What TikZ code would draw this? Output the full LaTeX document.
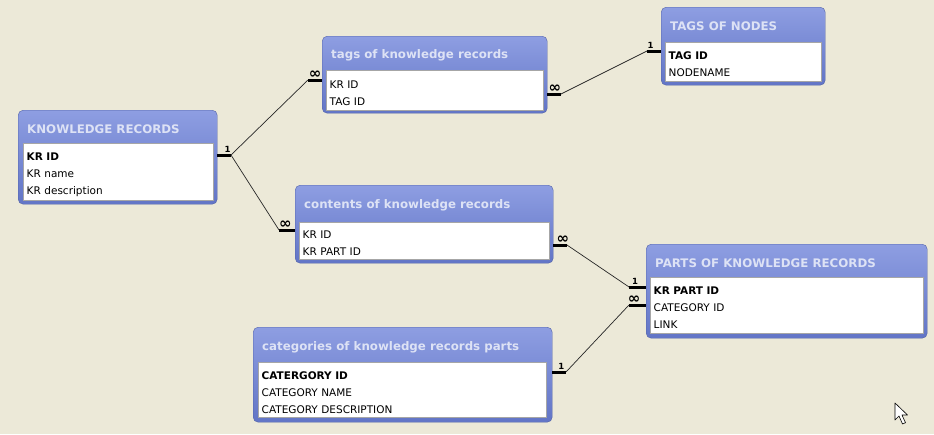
\documentclass[tikz,border=0pt]{standalone}
\usepackage{fontspec}
\setmainfont{DejaVu Sans}
\usetikzlibrary{positioning}
\definecolor{desk}{HTML}{ECE9D8}
\definecolor{bartop}{HTML}{8E9EE2}
\definecolor{barbot}{HTML}{6275C6}
\definecolor{ttltext}{HTML}{DDE2F5}
\tikzset{
  table/.style={anchor=north west, inner sep=0pt, rounded corners=5pt, draw=barbot!85!black, top color=bartop, bottom color=barbot},
  ttl/.style={anchor=west, inner sep=0pt, text=ttltext, font=\fontsize{11.8}{14}\selectfont\bfseries},
  fields/.style={anchor=north west, fill=white, draw=gray!70, inner xsep=3.5pt, inner ysep=1pt, align=left,
    font=\fontsize{10.5}{17}\selectfont, execute at begin node={\rule{0pt}{13pt}}},
  key/.style={line width=3pt},
  link/.style={line width=0.7pt, black!85},
  one/.style={above, inner sep=1pt, font=\fontsize{8.5}{9}\selectfont\bfseries},
  many/.style={above, inner sep=0pt, font=\fontsize{15}{15}\selectfont\bfseries},
}

\begin{document}
\begin{tikzpicture}[x=1pt,y=-1pt]
    \fill[desk] (0,0) rectangle (934,434);
    \useasboundingbox (0,0) rectangle (934,434);

    % tables
    \node[table, minimum width=199pt, minimum height=94pt] (kr) at (18,110) {};
    \node[ttl] (krT) at ([xshift=9pt,yshift=-19pt]kr.north west) {KNOWLEDGE RECORDS};
    \node[fields, text width=183pt, minimum height=57pt] (krF) at (23,143) {\textbf{KR ID}\\KR name\\KR description};

    \node[table, minimum width=225pt, minimum height=77pt] (tags) at (322,36) {};
    \node[ttl] (tagsT) at ([xshift=9pt,yshift=-19pt]tags.north west) {tags of knowledge records};
    \node[fields, text width=210pt, minimum height=40pt] (tagsF) at (326,70) {KR ID\\TAG ID};

    \node[table, minimum width=258pt, minimum height=78pt] (cont) at (295,185) {};
    \node[ttl] (contT) at ([xshift=9pt,yshift=-20pt]cont.north west) {contents of knowledge records};
    \node[fields, text width=243pt, minimum height=37pt] (contF) at (299,222) {KR ID\\KR PART ID};

    \node[table, minimum width=164pt, minimum height=78pt] (nodes) at (661,7) {};
    \node[ttl] (nodesT) at ([xshift=9pt,yshift=-19pt]nodes.north west) {TAGS OF NODES};
    \node[fields, text width=149pt, minimum height=39pt] (nodesF) at (665,42) {\textbf{TAG ID}\\NODENAME};

    \node[table, minimum width=281pt, minimum height=94pt] (parts) at (646,244) {};
    \node[ttl] (partsT) at ([xshift=9pt,yshift=-19pt]parts.north west) {PARTS OF KNOWLEDGE RECORDS};
    \node[fields, text width=266pt, minimum height=56pt] (partsF) at (650,277) {\textbf{KR PART ID}\\CATEGORY ID\\LINK};

    \node[table, minimum width=299pt, minimum height=95pt] (cats) at (253,327) {};
    \node[ttl] (catsT) at ([xshift=9pt,yshift=-20pt]cats.north west) {categories of knowledge records parts};
    \node[fields, text width=281pt, minimum height=55pt] (catsF) at (258,362) {\textbf{CATERGORY ID}\\CATEGORY NAME\\CATEGORY DESCRIPTION};

    % relationships
    \coordinate (c1) at (231,155);
    \coordinate (c2) at (308,80);
    \coordinate (c3) at (279,230);
    \coordinate (c4) at (561,94);
    \coordinate (c5) at (647,51);
    \coordinate (c6) at (567,245);
    \coordinate (c7) at (629,287);
    \coordinate (c8) at (629,305);
    \coordinate (c9) at (566,372);

    \path [key] (kr.east |- c1) edge node[one, pos=0.75]{1} (c1);
    \path [key] (c2) edge node[many, pos=0.5]{∞} (tags.west |- c2);
    \path [key] (c3) edge node[many, pos=0.4]{∞} (cont.west |- c3);
    \path [key] (tags.east |- c4) edge node[many, pos=0.55]{∞} (c4);
    \path [key] (c5) edge node[one, pos=0.25]{1} (nodes.west |- c5);
    \path [key] (cont.east |- c6) edge node[many, pos=0.7]{∞} (c6);
    \path [key] (c7) edge node[one, pos=0.35]{1} (parts.west |- c7);
    \path [key] (c8) edge node[many, pos=0.3]{∞} (parts.west |- c8);
    \path [key] (cats.east |- c9) edge node[one, pos=0.65]{1} (c9);

    \path [link] (c1) edge (c2);
    \path [link] (c1) edge (c3);
    \path [link] (c4) edge (c5);
    \path [link] (c6) edge (c7);
    \path [link] (c9) edge (c8);

    % mouse pointer
    \draw[fill=white, line width=0.6pt, line join=round] (895,403) -- ++(0,17) -- ++(4,-4) -- ++(3.5,8) -- ++(3,-1.3) -- ++(-3.5,-7.7) -- ++(5.5,0) -- cycle;
\end{tikzpicture}
\end{document}
